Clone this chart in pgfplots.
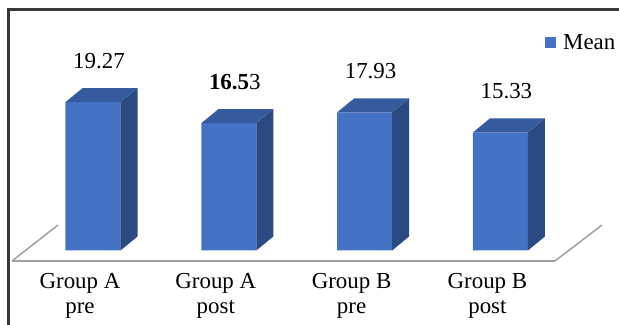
\documentclass[border=0pt]{standalone}
\usepackage{fontspec}
\setmainfont{Liberation Serif}
\usepackage{pgfplots}
\usepackage{pgfplotstable}
\pgfplotsset{compat=1.18}
\definecolor{barfront}{HTML}{4472C4}
\definecolor{bartop}{HTML}{365A9E}
\definecolor{barside}{HTML}{2C4A82}
\definecolor{floorgray}{HTML}{A0A0A0}
\definecolor{framegray}{HTML}{383838}

\pgfplotstableread{
x v label
0 19.27 {19.27}
1 16.53 {\textbf{16.5}3}
2 17.93 {17.93}
3 15.33 {15.33}
}\means

\begin{document}
\begin{tikzpicture}
\useasboundingbox (0bp,0bp) rectangle (619bp,325bp);
\begin{axis}[
  at={(0bp,64bp)}, anchor=south west,
  scale only axis, width=619bp, height=261bp,
  xmin=-0.6848, xmax=3.8733,
  ymin=-1.364, ymax=32.53,
  clip=false,
  axis line style={draw=none},
  tick style={draw=none},
  major tick length=0pt,
  ytick=\empty,
  xtick={0,1,2,3},
  xticklabels={{Group A\\pre},{Group A\\post},{Group B\\pre},{Group B\\post}},
  xticklabel style={align=center, font=\fontsize{23}{25}\selectfont, inner sep=0pt, xshift=-13bp, yshift=-12bp},
  legend style={draw=none, fill=none, at={(axis cs:3.328,26.95)}, anchor=west,
    inner sep=0pt, font=\fontsize{23}{25}\selectfont, nodes={inner sep=1bp}},
  legend cell align=left,
]
% floor
\addplot[floorgray, line width=1.5bp, forget plot] coordinates {(-0.2577,3.31) (-0.5965,-1.364)};
\addplot[floorgray, line width=1.5bp, forget plot] coordinates {(3.402,-1.364) (3.748,3.31)};
\addplot[floorgray, line width=2.2bp, forget plot] coordinates {(-0.5965,-1.364) (3.402,-1.364)};
% front faces
\addplot[ybar, bar width=55bp, fill=barfront, draw=none,
  legend image code/.code={\fill[barfront] (0bp,-5.5bp) rectangle (11bp,5.5bp); \path (17bp,0bp);},
  nodes near coords, point meta=explicit symbolic,
  every node near coord/.append style={anchor=base, yshift=34bp, xshift=6bp, font=\fontsize{23}{25}\selectfont, text=black}]
  table[x=x, y=v, meta=label] {\means};
\addlegendentry{Mean}
% side faces
\addplot[fill=barside, draw=none, forget plot] coordinates {(0.2025,0) (0.2025,19.27) (0.3277,21.088) (0.3277,1.818)} -- cycle;
\addplot[fill=barside, draw=none, forget plot] coordinates {(1.2025,0) (1.2025,16.53) (1.3277,18.348) (1.3277,1.818)} -- cycle;
\addplot[fill=barside, draw=none, forget plot] coordinates {(2.2025,0) (2.2025,17.93) (2.3277,19.748) (2.3277,1.818)} -- cycle;
\addplot[fill=barside, draw=none, forget plot] coordinates {(3.2025,0) (3.2025,15.33) (3.3277,17.148) (3.3277,1.818)} -- cycle;
% top faces
\addplot[fill=bartop, draw=none, forget plot] coordinates {(-0.2025,19.27) (0.2025,19.27) (0.3277,21.088) (-0.0773,21.088)} -- cycle;
\addplot[fill=bartop, draw=none, forget plot] coordinates {(0.7975,16.53) (1.2025,16.53) (1.3277,18.348) (0.9227,18.348)} -- cycle;
\addplot[fill=bartop, draw=none, forget plot] coordinates {(1.7975,17.93) (2.2025,17.93) (2.3277,19.748) (1.9227,19.748)} -- cycle;
\addplot[fill=bartop, draw=none, forget plot] coordinates {(2.7975,15.33) (3.2025,15.33) (3.3277,17.148) (2.9227,17.148)} -- cycle;
\end{axis}
\draw[framegray, line width=2.6bp] (8.7bp,-30bp) -- (8.7bp,315.5bp) -- (660bp,315.5bp);
\end{tikzpicture}
\end{document}
